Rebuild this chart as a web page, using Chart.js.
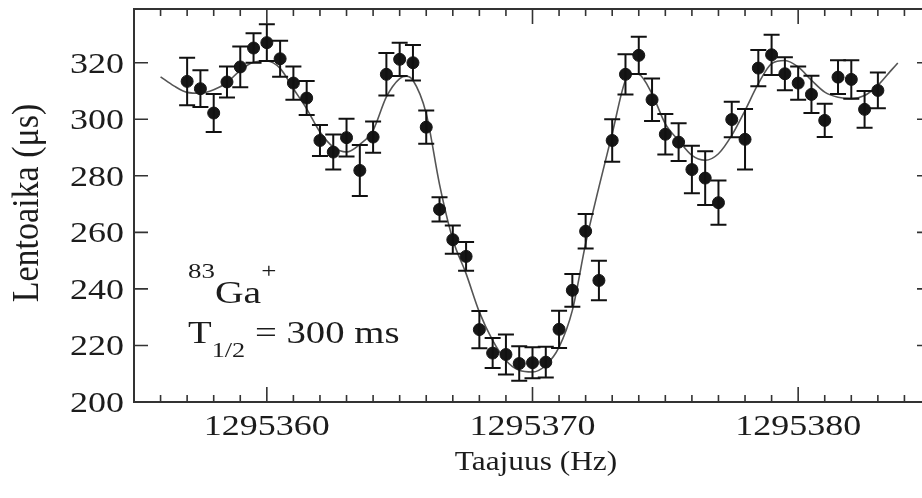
<!DOCTYPE html>
<html>
<head>
<meta charset="utf-8">
<script src="https://cdn.jsdelivr.net/npm/chart.js@4.4.0/dist/chart.umd.min.js"></script>
<style>
  html, body { margin: 0; padding: 0; background: #fff; overflow: hidden; }
  canvas { display: block; }
</style>
</head>
<body>
<canvas id="tofChart" width="940" height="498"></canvas>
<script>
// measured points: frequency (Hz), mean time of flight (us) and its uncertainty
const freq = [
  1295357, 1295357.5, 1295358, 1295358.5, 1295359, 1295359.5, 1295360, 1295360.5,
  1295361, 1295361.5, 1295362, 1295362.5, 1295363, 1295363.5, 1295364, 1295364.5,
  1295365, 1295365.5, 1295366, 1295366.5, 1295367, 1295367.5, 1295368, 1295368.5,
  1295369, 1295369.5, 1295370, 1295370.5, 1295371, 1295371.5, 1295372, 1295372.5,
  1295373, 1295373.5, 1295374, 1295374.5, 1295375, 1295375.5, 1295376, 1295376.5,
  1295377, 1295377.5, 1295378, 1295378.5, 1295379, 1295379.5, 1295380, 1295380.5,
  1295381, 1295381.5, 1295382, 1295382.5, 1295383
];
const tof = [
  313.4, 310.8, 302.2, 313.2, 318.5, 325.2, 327.1, 321.4,
  312.8, 307.5, 292.5, 288.4, 293.5, 281.9, 293.7, 315.9,
  321.2, 320.0, 297.2, 268.1, 257.4, 251.5, 225.6, 217.3,
  216.8, 213.6, 213.9, 214.1, 225.7, 239.5, 260.4, 243.0,
  292.5, 315.9, 322.6, 306.9, 294.7, 291.9, 282.2, 279.2,
  270.5, 299.9, 292.9, 318.1, 322.8, 316.1, 312.8, 308.8,
  299.6, 314.9, 314.1, 303.5, 310.2
];
const tofErr = [
  8.4, 6.5, 6.7, 5.5, 7.2, 5.2, 6.5, 6.4,
  5.9, 6.0, 5.5, 6.2, 6.7, 9.0, 5.5, 7.5,
  5.9, 6.3, 5.9, 4.3, 5.0, 5.1, 6.6, 5.3,
  7.1, 6.1, 5.5, 5.4, 6.6, 5.8, 6.1, 7.0,
  7.5, 7.1, 6.6, 7.5, 7.2, 6.7, 8.4, 9.5,
  7.8, 6.3, 10.7, 6.4, 7.1, 5.8, 5.9, 6.6,
  5.9, 6.0, 6.8, 6.5, 6.3
];

// fitted line shape
const fitFreq = [
  1295356, 1295356.5, 1295357, 1295357.5, 1295358, 1295358.5, 1295359, 1295359.5,
  1295360, 1295360.5, 1295361, 1295361.5, 1295362, 1295362.5, 1295363, 1295363.5,
  1295364, 1295364.5, 1295365, 1295365.25, 1295365.5, 1295366, 1295366.5, 1295367,
  1295367.5, 1295368, 1295368.5, 1295369, 1295369.5, 1295370, 1295370.5, 1295371,
  1295371.5, 1295372, 1295372.5, 1295373, 1295373.5, 1295373.8, 1295374, 1295374.5,
  1295375, 1295375.5, 1295376, 1295376.5, 1295377, 1295377.5, 1295378, 1295378.5,
  1295379, 1295379.5, 1295380, 1295380.5, 1295381, 1295381.5, 1295382, 1295382.5,
  1295383, 1295383.5, 1295383.75
];
const fitTof = [
  315.0, 311.8, 309.5, 309.2, 310.4, 313.0, 317.3, 320.2,
  320.6, 318.0, 310.8, 303.7, 295.5, 290.2, 288.4, 291.1,
  296.1, 307.9, 314.4, 315.2, 313.8, 302.0, 277.0, 257.5,
  245.4, 231.8, 221.8, 214.7, 211.2, 210.6, 213.0, 219.4,
  232.4, 256.0, 276.0, 294.9, 313.8, 316.1, 315.9, 309.0,
  298.4, 292.5, 287.2, 285.5, 287.8, 294.3, 303.1, 312.6,
  319.7, 320.8, 318.5, 313.8, 309.6, 307.8, 307.3, 308.4,
  312.0, 317.3, 319.9
];

const xTicks = [1295360, 1295370, 1295380];
const yTicks = [200, 220, 240, 260, 280, 300, 320];

const ink = '#1c1c1c';
const serif = '"Liberation Serif", "Times New Roman", serif';

// text in this figure is set wide, so glyphs get a horizontal stretch
function wideText(ctx, str, x, y, sx, size, align) {
  ctx.save();
  ctx.translate(x, y);
  ctx.scale(sx, 1);
  ctx.font = size + 'px ' + serif;
  ctx.textAlign = align;
  ctx.textBaseline = 'alphabetic';
  ctx.fillText(str, 0, 0);
  ctx.restore();
}

// runs of [text, size, baseline shift] laid out left to right
function richText(ctx, runs, x, y, sx) {
  ctx.save();
  ctx.translate(x, y);
  ctx.scale(sx, 1);
  ctx.textAlign = 'left';
  ctx.textBaseline = 'alphabetic';
  let cx = 0;
  runs.forEach(r => {
    ctx.font = r[1] + 'px ' + serif;
    ctx.fillText(r[0], cx, r[2]);
    cx += ctx.measureText(r[0]).width;
  });
  ctx.restore();
}

const errorBars = {
  id: 'errorBars',
  afterDatasetsDraw(chart) {
    const ctx = chart.ctx;
    const xs = chart.scales.x, ys = chart.scales.y;
    ctx.save();
    ctx.strokeStyle = '#111';
    ctx.lineWidth = 2;
    freq.forEach((f, i) => {
      const px = xs.getPixelForValue(f);
      const lo = ys.getPixelForValue(tof[i] - tofErr[i]);
      const hi = ys.getPixelForValue(tof[i] + tofErr[i]);
      ctx.beginPath();
      ctx.moveTo(px, lo); ctx.lineTo(px, hi);
      ctx.moveTo(px - 8, lo); ctx.lineTo(px + 8, lo);
      ctx.moveTo(px - 8, hi); ctx.lineTo(px + 8, hi);
      ctx.stroke();
    });
    ctx.restore();
  }
};

const frameAndLabels = {
  id: 'frameAndLabels',
  afterDraw(chart) {
    const ctx = chart.ctx;
    const a = chart.chartArea;
    const xs = chart.scales.x, ys = chart.scales.y;
    ctx.save();
    ctx.strokeStyle = '#333';
    ctx.lineWidth = 2;
    ctx.strokeRect(a.left, a.top, a.right - a.left, a.bottom - a.top);

    // 1 Hz ticks on top and bottom edges, pointing inwards
    ctx.lineWidth = 1.6;
    ctx.beginPath();
    for (let v = xs.min; v <= xs.max; v++) {
      const px = xs.getPixelForValue(v);
      const len = xTicks.includes(v) ? 15 : 7;
      ctx.moveTo(px, a.bottom); ctx.lineTo(px, a.bottom - len);
      ctx.moveTo(px, a.top); ctx.lineTo(px, a.top + len);
    }
    yTicks.forEach(v => {
      const py = ys.getPixelForValue(v);
      ctx.moveTo(a.left, py); ctx.lineTo(a.left + 14, py);
      ctx.moveTo(a.right, py); ctx.lineTo(a.right - 14, py);
    });
    ctx.stroke();

    ctx.fillStyle = ink;
    xTicks.forEach(v => {
      wideText(ctx, String(v), xs.getPixelForValue(v), 435, 1.2, 30, 'center');
    });
    yTicks.forEach(v => {
      wideText(ctx, String(v), 124, ys.getPixelForValue(v) + 10, 1.2, 30, 'right');
    });

    wideText(ctx, 'Taajuus (Hz)', 536, 470, 1.12, 28, 'center');

    ctx.save();
    ctx.translate(38, 203);
    ctx.scale(1.1, 1);
    ctx.rotate(-Math.PI / 2);
    ctx.font = '34px ' + serif;
    ctx.textAlign = 'center';
    ctx.fillText('Lentoaika (\u03bcs)', 0, 0);
    ctx.restore();

    richText(ctx, [['83', 21, -25], ['Ga', 31, 0], ['+', 21, -25]], 188, 303, 1.28);
    richText(ctx, [['T', 31, 0], ['1/2', 21, 14], [' = 300 ms', 31, 0]], 188, 343, 1.25);
    ctx.restore();
  }
};

const ctx = document.getElementById('tofChart').getContext('2d');
const tofChart = new Chart(ctx, {
  type: 'scatter',
  data: {
    datasets: [{
      label: 'Mittaus',
      data: freq.map((f, i) => ({ x: f, y: tof[i] })),
      backgroundColor: '#161616',
      borderColor: '#161616',
      pointRadius: 6,
      pointHoverRadius: 6,
      showLine: false,
      order: 0
    }, {
      label: 'Sovitus',
      data: fitFreq.map((f, i) => ({ x: f, y: fitTof[i] })),
      borderColor: '#555',
      borderWidth: 1.6,
      pointRadius: 0,
      showLine: true,
      cubicInterpolationMode: 'monotone',
      order: 1
    }]
  },
  options: {
    responsive: false,
    animation: false,
    devicePixelRatio: 1,
    layout: { padding: { left: 134, right: 9, top: 9, bottom: 96 } },
    plugins: { legend: { display: false }, tooltip: { enabled: false } },
    scales: {
      x: { type: 'linear', min: 1295355, max: 1295385, display: false },
      y: { min: 200, max: 339, display: false }
    }
  },
  plugins: [errorBars, frameAndLabels]
});
</script>
</body>
</html>
